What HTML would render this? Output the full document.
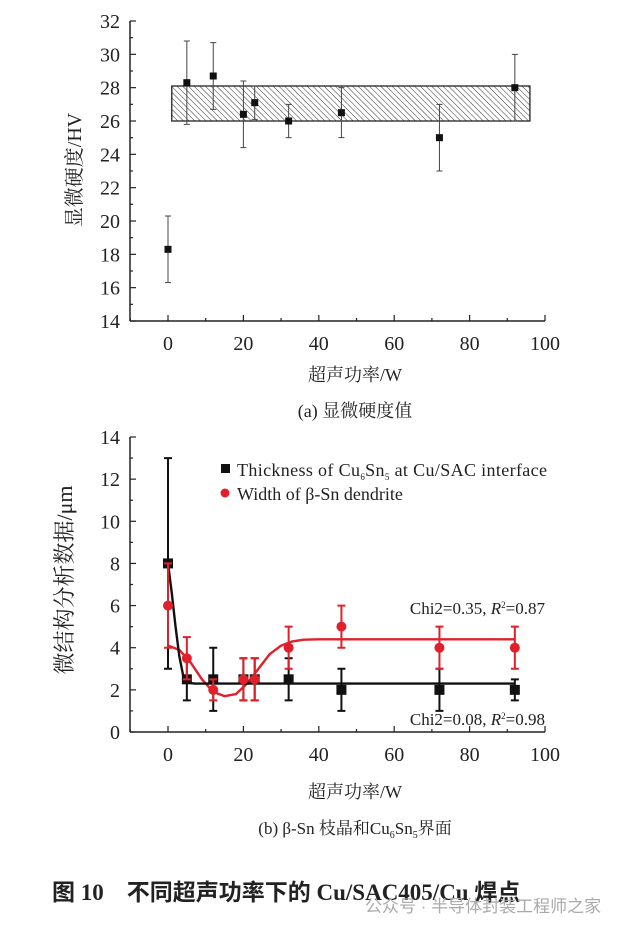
<!DOCTYPE html>
<html><head><meta charset="utf-8"><style>
body{margin:0;background:#fff;width:640px;height:931px;overflow:hidden}
svg{display:block}
text{font-family:"Liberation Serif","Noto Serif CJK SC",serif;fill:#222}
</style></head><body>
<svg id="s" width="640" height="931">
<defs><pattern id="hatch" width="4" height="4" patternUnits="userSpaceOnUse" patternTransform="rotate(-45)"><line x1="0" y1="0" x2="0" y2="4" stroke="#333" stroke-width="1"/></pattern></defs>
<g id="ga"></g>
<g id="gb"></g>
<text x="355" y="417" text-anchor="middle" font-size="18">(a)  显微硬度值</text>
<text x="355" y="834" text-anchor="middle" font-size="17">(b)  β-Sn 枝晶和Cu<tspan font-size="10" dy="4">6</tspan><tspan dy="-4">Sn</tspan><tspan font-size="10" dy="4">5</tspan><tspan dy="-4">界面</tspan></text>
<text x="52" y="900" font-size="23" font-weight="bold" xml:space="preserve" style="font-family:'Liberation Serif','Noto Sans CJK SC',sans-serif">图 10    不同超声功率下的 Cu/SAC405/Cu 焊点</text>
<text x="365" y="912" font-size="17" style="fill:#aaa;font-family:'Liberation Sans','Noto Sans CJK SC',sans-serif">公众号 · 半导体封装工程师之家</text>
</svg>
<script>
// chart (a)
const aX=[0,5,12,20,23,32,46,72,92];
const aY=[18.3,28.3,28.7,26.4,27.1,26.0,26.5,25.0,28.0];
const aErr=[2,2.5,2,2,1,1,1.5,2,2];
const aBand=[1,96,26,28.1];
const aTicksY=[14,16,18,20,22,24,26,28,30,32];
const ticksX=[0,20,40,60,80,100];
// chart (b)
const bX=[0,5,12,20,23,32,46,72,92];
const bBlack=[8,2.5,2.5,2.5,2.5,2.5,2,2,2];
const bBlackErr=[5,1,1.5,1,1,1,1,1,0.5];
const bRed=[6,3.5,2,2.5,2.5,4,5,4,4];
const bRedErr=[2,1,0.5,1,1,1,1,1,1];
const fitBlackX=[0,1,2,3,4,5,7,10,92];
const fitBlackY=[8,6.6,5.0,3.6,2.7,2.35,2.3,2.3,2.3];
const fitRedX=[0,3,6,9,12,15,18,21,24,27,30,33,36,40,50,92];
const fitRedY=[4.1,3.9,3.3,2.5,1.9,1.7,1.8,2.3,3.0,3.7,4.1,4.3,4.38,4.4,4.4,4.4];
const bTicksY=[0,2,4,6,8,10,12,14];

const NS="http://www.w3.org/2000/svg";
function mk(p,t,a){const e=document.createElementNS(NS,t);for(const k in a)e.setAttribute(k,a[k]);p.appendChild(e);return e;}
const sx=v=>168+(v)*3.77, X0=130, X1=545;

function axes(g,sy,ymin,ymax,ticks,minorStep){
  let a=mk(g,'line',{x1:X0,x2:X0,y1:sy(ymax),y2:sy(ymin),stroke:'#222','stroke-width':1.5});
  
  let b=mk(g,'line',{x1:X0,x2:X1,y1:sy(ymin),y2:sy(ymin),stroke:'#222','stroke-width':1.5});
  
  for(let v=ymin;v<=ymax+1e-9;v+=minorStep){const maj=ticks.includes(+v.toFixed(3));mk(g,'line',{x1:X0,x2:X0+(maj?6:3),y1:sy(v),y2:sy(v),stroke:'#222','stroke-width':1.2});}
  ticks.forEach(t=>{const e=mk(g,'text',{x:X0-10,y:sy(t)+7,'text-anchor':'end','font-size':20});e.textContent=t;
    });
  for(let v=-10;v<=100;v+=10){mk(g,'line',{x1:sx(v),x2:sx(v),y1:sy(ymin),y2:sy(ymin)-(v%20==0?6:3),stroke:'#222','stroke-width':1.2});}
  ticksX.forEach(t=>{const e=mk(g,'text',{x:sx(t),y:sy(ymin)+29,'text-anchor':'middle','font-size':20});e.textContent=t;
    });
}
function ebar(g,x,y,e,sy,col,w,cap){
  const l=mk(g,'path',{d:`M${sx(x)},${sy(y-e)}V${sy(y+e)}M${sx(x)-cap},${sy(y-e)}h${2*cap}M${sx(x)-cap},${sy(y+e)}h${2*cap}`,stroke:col,'stroke-width':w,fill:'none'});
  
}
// (a)
const ga=document.getElementById('ga');
const sya=v=>321-(v-14)*(300/18);
axes(ga,sya,14,32,aTicksY,1);
let band=mk(ga,'rect',{x:sx(aBand[0]),y:sya(aBand[3]),width:sx(aBand[1])-sx(aBand[0]),height:sya(aBand[2])-sya(aBand[3]),fill:'url(#hatch)',stroke:'#222','stroke-width':1.3});

aX.forEach((x,i)=>{ebar(ga,x,aY[i],aErr[i],sya,'#444',1,3);
  const r=mk(ga,'rect',{x:sx(x)-3.5,y:sya(aY[i])-3.5,width:7,height:7,fill:'#111'});
  });
let t=mk(ga,'text',{x:355,y:381,'text-anchor':'middle','font-size':18});t.textContent='超声功率/W';

t=mk(ga,'text',{x:0,y:0,'text-anchor':'middle','font-size':20,transform:'translate(81,170) rotate(-90)'});t.textContent='显微硬度/HV';

// (b)
const gb=document.getElementById('gb');
const syb=v=>732-v*(295/14);
axes(gb,syb,0,14,bTicksY,1);
const line=(xs,ys,col)=>{const e=mk(gb,'path',{d:xs.map((x,i)=>(i?'L':'M')+sx(x)+','+syb(ys[i])).join(''),stroke:col,'stroke-width':2.4,fill:'none','stroke-linejoin':'round'});return e;};
let fr=line(fitRedX,fitRedY,'#e0202a');
let fb=line(fitBlackX,fitBlackY,'#111');
bX.forEach((x,i)=>{ebar(gb,x,bBlack[i],bBlackErr[i],syb,'#111',2,4);
  const r=mk(gb,'rect',{x:sx(x)-5,y:syb(bBlack[i])-5,width:10,height:10,fill:'#111'});
  });
bX.forEach((x,i)=>{ebar(gb,x,bRed[i],bRedErr[i],syb,'#e0202a',2,4);
  const c=mk(gb,'circle',{cx:sx(x),cy:syb(bRed[i]),r:5,fill:'#e0202a'});
  });
let lg=mk(gb,'rect',{x:221,y:464,width:9,height:9,fill:'#111'});
t=mk(gb,'text',{x:237,y:476,'font-size':18,textLength:310,lengthAdjust:'spacing'});t.innerHTML='Thickness of Cu<tspan font-size="9" dy="4">6</tspan><tspan dy="-4">Sn</tspan><tspan font-size="9" dy="4">5</tspan><tspan dy="-4"> at Cu/SAC interface</tspan>';

lg=mk(gb,'circle',{cx:225,cy:493,r:4.5,fill:'#e0202a'});
t=mk(gb,'text',{x:237,y:500,'font-size':18});t.textContent='Width of β-Sn dendrite';

t=mk(gb,'text',{x:545,y:614,'text-anchor':'end','font-size':17});t.innerHTML='Chi2=0.35, <tspan font-style="italic">R</tspan><tspan font-size="9" dy="-6">2</tspan><tspan dy="6">=0.87</tspan>';

t=mk(gb,'text',{x:545,y:725,'text-anchor':'end','font-size':17});t.innerHTML='Chi2=0.08, <tspan font-style="italic">R</tspan><tspan font-size="9" dy="-6">2</tspan><tspan dy="6">=0.98</tspan>';

t=mk(gb,'text',{x:355,y:798,'text-anchor':'middle','font-size':18});t.textContent='超声功率/W';

t=mk(gb,'text',{x:0,y:0,'text-anchor':'middle','font-size':22,transform:'translate(72,580) rotate(-90)'});t.textContent='微结构分析数据/μm';

</script>
</body></html>
